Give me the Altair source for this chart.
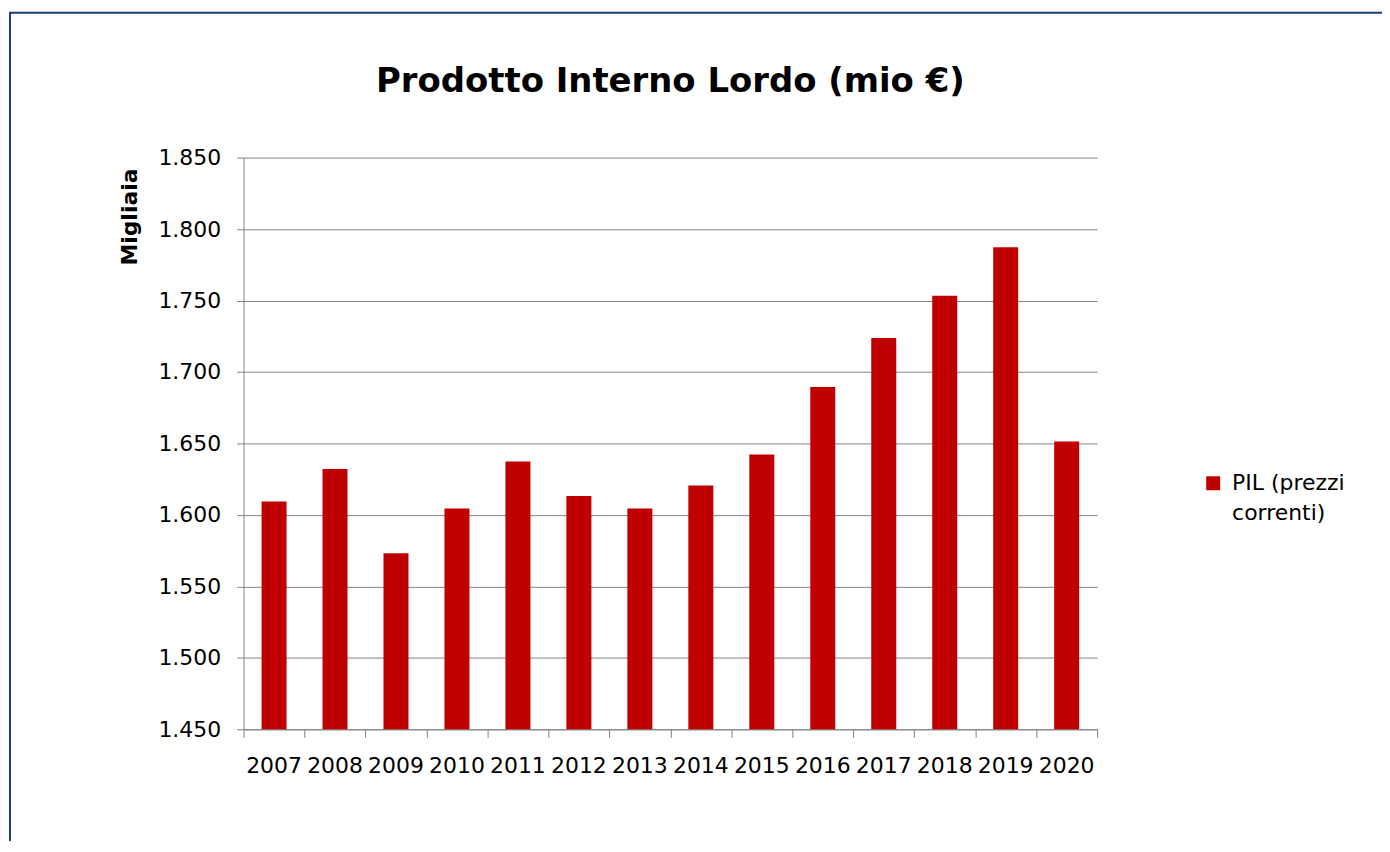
import altair as alt
import pandas as pd

# ---- data ----
years = ["2007", "2008", "2009", "2010", "2011", "2012", "2013",
         "2014", "2015", "2016", "2017", "2018", "2019", "2020"]
pil = [1609.3, 1632.1, 1573.1, 1604.5, 1637.4, 1613.3, 1604.5,
       1620.5, 1642.3, 1689.4, 1723.8, 1753.3, 1787.2, 1651.3]
series_name = "PIL (prezzi\ncorrenti)"
y_ticks = [1450, 1500, 1550, 1600, 1650, 1700, 1750, 1800, 1850]
title_text = "Prodotto Interno Lordo (mio €)"
y_title = "Migliaia"

df = pd.DataFrame({"anno": years, "pil": pil, "serie": [series_name] * len(years)})

W, H = 857, 574
FONT = "DejaVu Sans"
GRAY = "#828282"
RED = "#C00000"

bars = alt.Chart(df).mark_bar(clip=True).encode(
    x=alt.X(
        "anno:N", sort=years,
        scale=alt.Scale(paddingInner=0.59, paddingOuter=0.295),
        axis=alt.Axis(orient="bottom", title=None, labelAngle=0, ticks=False, tickSize=0,
                      domain=False, grid=False, labelPadding=26, labelFontSize=22,
                      labelFont=FONT, labelColor="black"),
    ),
    y=alt.Y(
        "pil:Q",
        scale=alt.Scale(domain=[1450, 1850], zero=False, nice=False),
        axis=alt.Axis(values=y_ticks,
                      labelExpr="replace(format(datum.value, ',.0f'), ',', '.')",
                      labelFontSize=22, labelFont=FONT, labelColor="black", labelPadding=16,
                      grid=True, gridColor=GRAY, gridWidth=1,
                      domainColor=GRAY, tickColor=GRAY, tickSize=7,
                      title=y_title, titleAngle=270, titleX=-124.5, titleY=10.5,
                      titleAlign="right", titleBaseline="top", titleFontSize=22,
                      titleFont=FONT, titleFontWeight="bold", titleColor="black"),
    ),
    color=alt.Color(
        "serie:N",
        scale=alt.Scale(domain=[series_name], range=[RED]),
        legend=alt.Legend(title=None, orient="none", legendX=962.5, legendY=316,
                          symbolType="square", symbolSize=196, symbolStrokeWidth=0,
                          labelExpr="split(datum.label, '\\n')",
                          labelFontSize=22, labelFont=FONT, labelColor="black",
                          labelOffset=8, labelLimit=300, padding=0),
    ),
)

ticks_layer = alt.Chart(df).transform_window(idx="row_number()").mark_point(opacity=0).encode(
    x=alt.X("idx:Q",
            scale=alt.Scale(domain=[0, len(years)], nice=False, zero=False),
            axis=alt.Axis(orient="bottom", values=list(range(len(years) + 1)), labels=False,
                          title=None, grid=False, tickSize=8, tickColor=GRAY,
                          domainColor=GRAY)),
)

border = alt.Chart(alt.Data(values=[{}])).mark_rect(
    fill="transparent", stroke="#1c3a80", strokeWidth=2
).encode(
    x=alt.value(-234.5), y=alt.value(-145.5), x2=alt.value(3000), y2=alt.value(3000)
)

chart = alt.layer(border, bars, ticks_layer).resolve_scale(x="independent").properties(
    width=W, height=H,
    autosize=alt.AutoSizeParams(type="none"),
    padding={"left": 236.5, "top": 148.5, "right": 286, "bottom": 110},
    title=alt.TitleParams(text=title_text, font=FONT, fontSize=34, fontWeight="bold",
                          color="black", anchor="middle", frame="group", offset=-88),
    background="white",
).configure(
    style={"guide-label": {"lineHeight": 30}}
).configure_view(strokeWidth=0)

chart.save("out.html", embed_options={"renderer": "svg", "actions": False})
